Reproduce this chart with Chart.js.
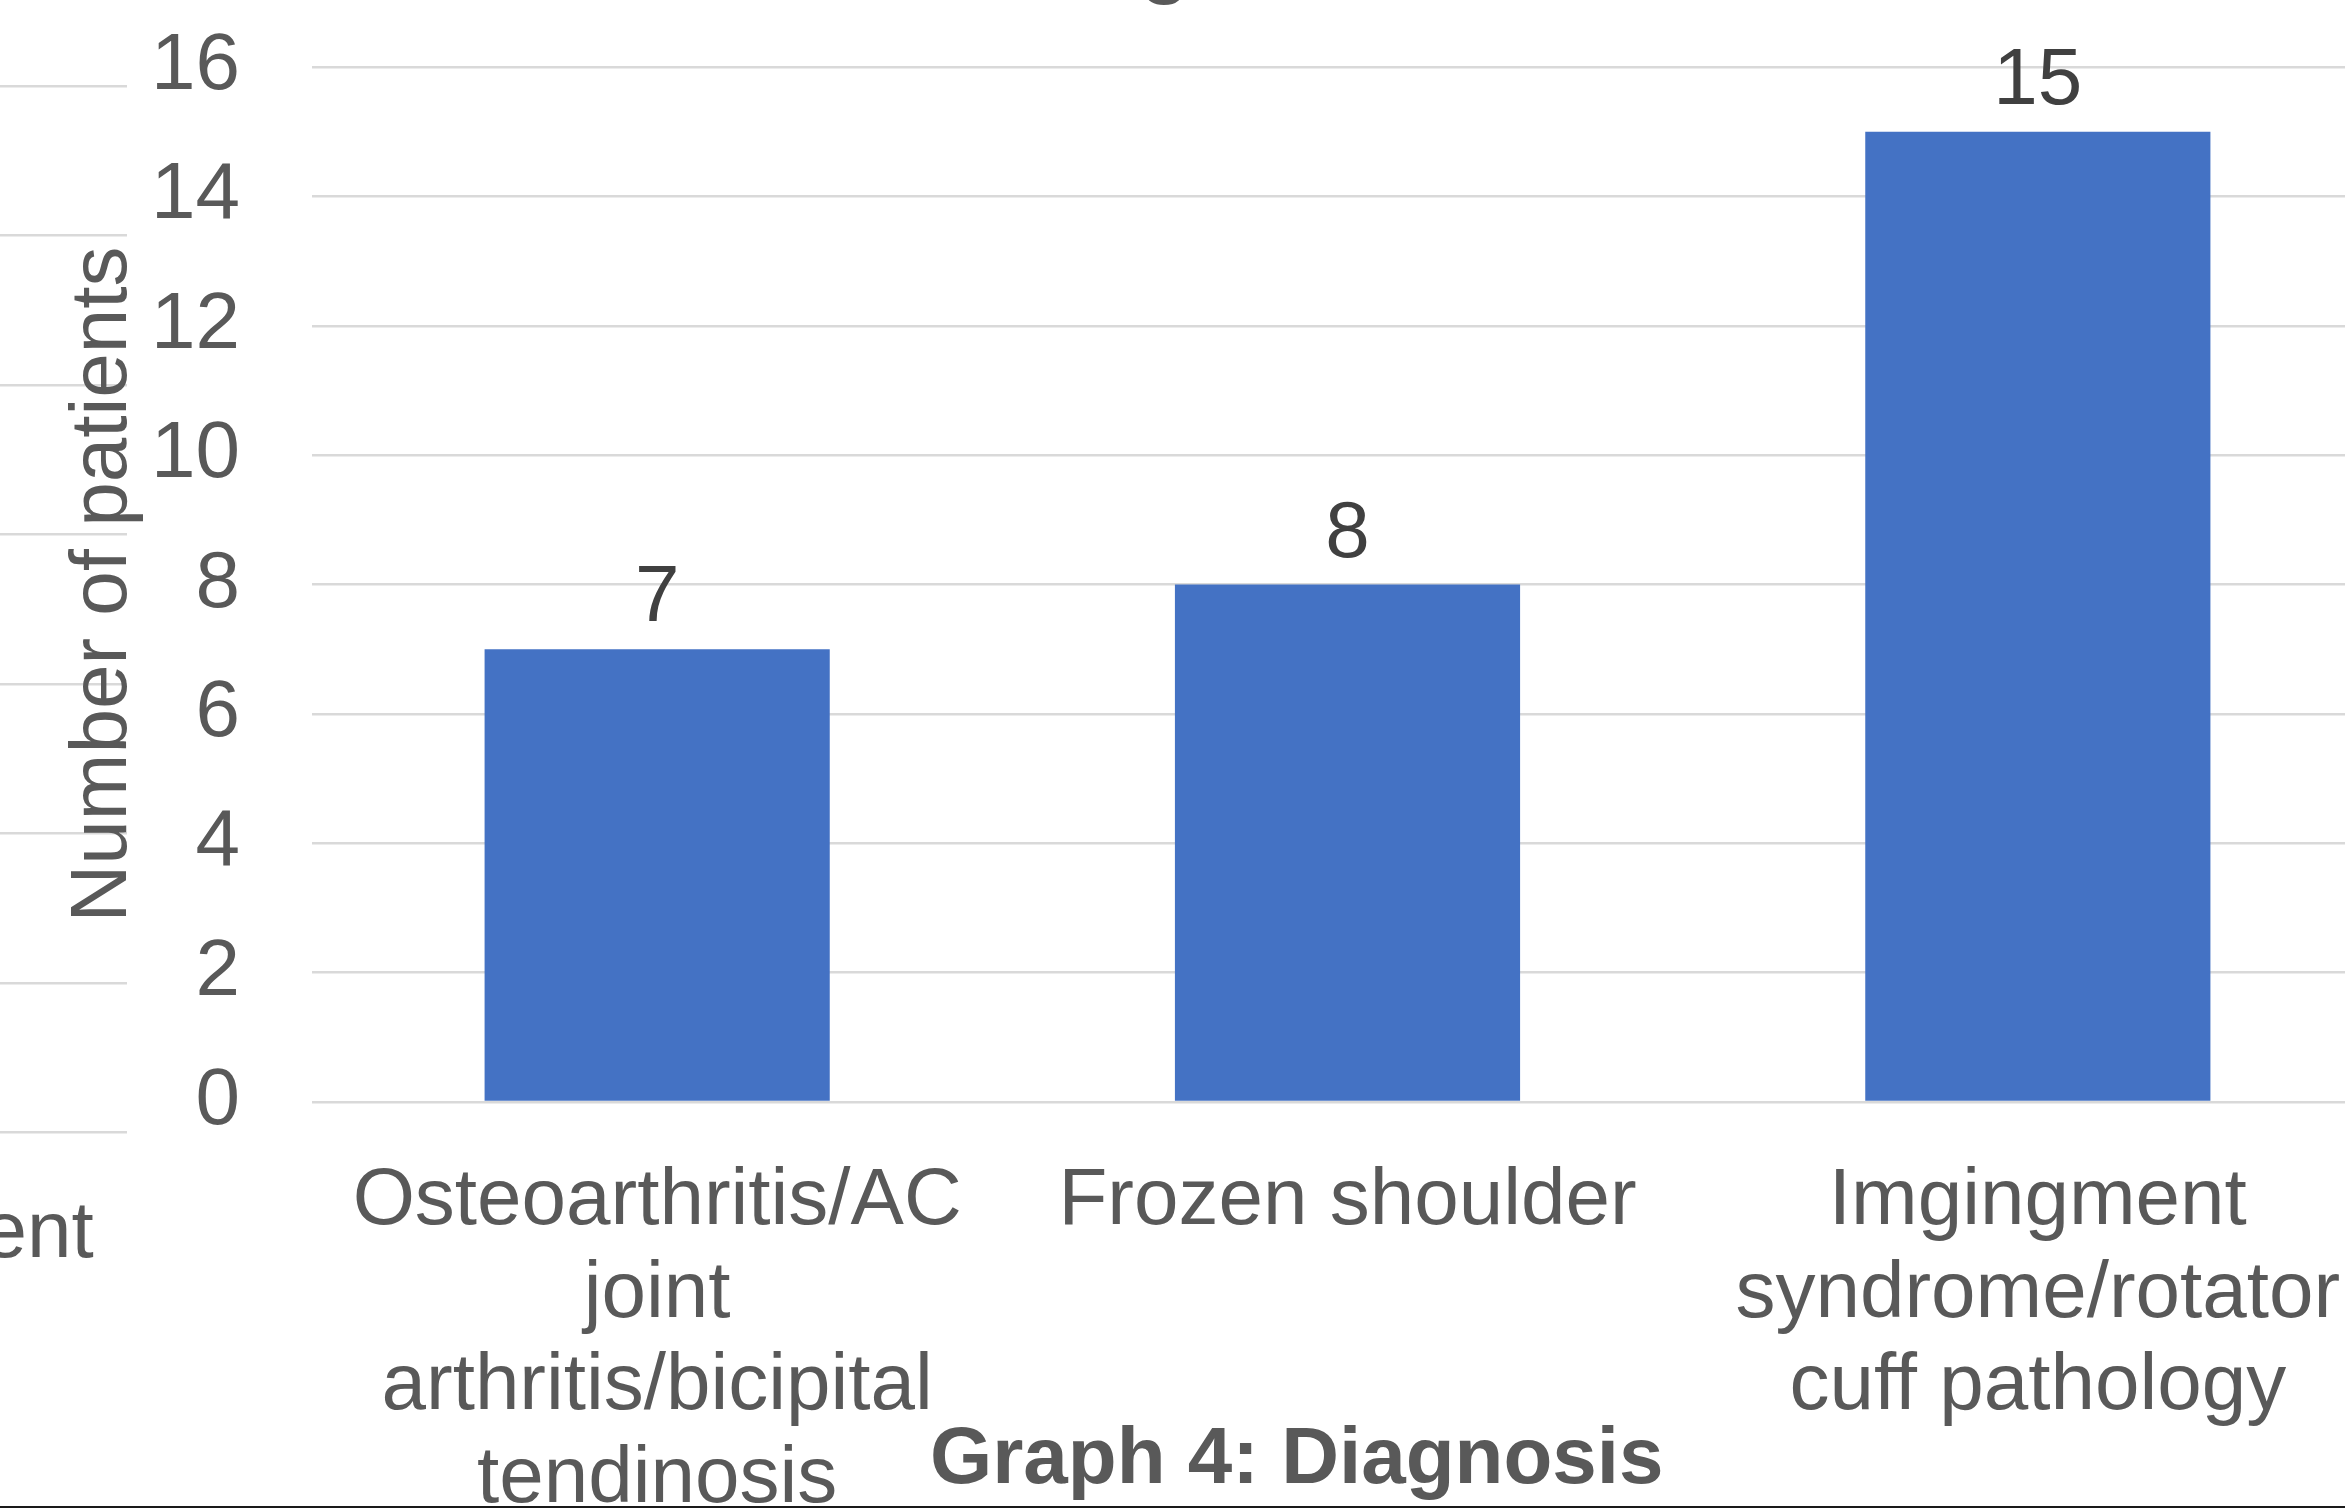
<!DOCTYPE html>
<html lang="en">
<head>
    <meta charset="UTF-8">
    <title>Graph 4: Diagnosis</title>
    <style>
        html, body {
            margin: 0;
            padding: 0;
            background: #ffffff;
            overflow: hidden;
        }
        .page {
            position: relative;
            width: 2345px;
            height: 1508px;
            overflow: hidden;
            background: #ffffff;
            font-family: 'Liberation Sans', Arial, sans-serif;
            color: #595959;
        }
        #left-chart {
            position: absolute;
            left: -400px;
            top: 0;
        }
        #main-chart {
            position: absolute;
            left: 0;
            top: 0;
        }
        .title-top {
            position: absolute;
            left: 1016px;
            top: -79px;
            font-size: 80px;
            line-height: 80px;
            font-weight: bold;
            white-space: nowrap;
        }
        .caption {
            position: absolute;
            left: 930px;
            top: 1416px;
            font-size: 80px;
            line-height: 80px;
            font-weight: bold;
            white-space: nowrap;
        }
        .bottom-rule {
            position: absolute;
            left: 0;
            top: 1506px;
            width: 100%;
            height: 2px;
            background: #1a1a1a;
        }
    </style>
</head>
<body>
    <div class="page">
        <canvas id="left-chart" width="527" height="1508"></canvas>
        <canvas id="main-chart" width="2400" height="1508"></canvas>
        <div class="title-top">Diagnosis</div>
        <div class="caption">Graph 4: Diagnosis</div>
        <div class="bottom-rule"></div>
    </div>

    <script src="https://cdn.jsdelivr.net/npm/chart.js"></script>
    <script>
        // main chart data
        const categories = [
            ['Osteoarthritis/AC', 'joint', 'arthritis/bicipital', 'tendinosis'],
            ['Frozen shoulder'],
            ['Imgingment', 'syndrome/rotator', 'cuff pathology']
        ];
        const patients = [7, 8, 15];
        const yTicks = [0, 2, 4, 6, 8, 10, 12, 14, 16];

        // neighbouring chart, only its right edge is visible
        const leftCategories = ['ent'];
        const leftTicks = [0, 1, 2, 3, 4, 5, 6, 7];

        const FONT = "'Liberation Sans', Arial, sans-serif";
        const TEXT = '#595959';
        const GRID = '#d9d9d9';

        // stop tick labels from pushing the plot area around
        function noPadding(scale) {
            scale.paddingTop = 0;
            scale.paddingBottom = 0;
            scale.paddingLeft = 0;
            scale.paddingRight = 0;
        }

        // value labels above each bar
        const barValues = {
            id: 'barValues',
            afterDatasetsDraw(chart) {
                const ctx = chart.ctx;
                ctx.save();
                ctx.font = '80px ' + FONT;
                ctx.fillStyle = '#404040';
                ctx.textAlign = 'center';
                ctx.textBaseline = 'alphabetic';
                chart.getDatasetMeta(0).data.forEach((bar, i) => {
                    ctx.fillText(String(chart.data.datasets[0].data[i]), bar.x, bar.y - 28);
                });
                ctx.restore();
            }
        };

        new Chart(document.getElementById('main-chart'), {
            type: 'bar',
            data: {
                labels: categories,
                datasets: [{
                    data: patients,
                    backgroundColor: '#4472c4',
                    borderWidth: 0,
                    barPercentage: 0.5,
                    categoryPercentage: 1.0
                }]
            },
            options: {
                responsive: false,
                animation: false,
                events: [],
                layout: { padding: { top: 67, right: 17, bottom: 0, left: 0 } },
                plugins: {
                    legend: { display: false },
                    tooltip: { enabled: false }
                },
                scales: {
                    x: {
                        grid: { display: false },
                        border: { display: false },
                        ticks: {
                            color: TEXT,
                            font: { family: FONT, size: 80, lineHeight: 1.156 },
                            padding: 46,
                            autoSkip: false,
                            maxRotation: 0,
                            minRotation: 0
                        },
                        afterFit(scale) {
                            scale.height = 406;
                            noPadding(scale);
                        }
                    },
                    y: {
                        min: yTicks[0],
                        max: yTicks[yTicks.length - 1],
                        afterBuildTicks(scale) {
                            scale.ticks = yTicks.map(v => ({ value: v }));
                        },
                        grid: { color: GRID, lineWidth: 2.5, drawTicks: false },
                        border: { display: false },
                        ticks: {
                            color: TEXT,
                            font: { family: FONT, size: 80 },
                            padding: 72
                        },
                        title: {
                            display: true,
                            text: 'Number of patients',
                            color: TEXT,
                            font: { family: FONT, size: 80, lineHeight: 1.2 },
                            padding: { top: 56, bottom: 0 }
                        },
                        afterFit(scale) {
                            scale.width = 312;
                            noPadding(scale);
                        }
                    }
                }
            },
            plugins: [barValues]
        });

        new Chart(document.getElementById('left-chart'), {
            type: 'bar',
            data: {
                labels: leftCategories,
                datasets: []
            },
            options: {
                responsive: false,
                animation: false,
                events: [],
                layout: { padding: { top: 86, right: 0, bottom: 0, left: 349 } },
                plugins: {
                    legend: { display: false },
                    tooltip: { enabled: false }
                },
                scales: {
                    x: {
                        grid: { display: false },
                        border: { display: false },
                        ticks: {
                            color: TEXT,
                            font: { family: FONT, size: 80, lineHeight: 1.156 },
                            padding: 48,
                            maxRotation: 0,
                            minRotation: 0
                        },
                        afterFit(scale) {
                            scale.height = 375.5;
                            noPadding(scale);
                        }
                    },
                    y: {
                        min: leftTicks[0],
                        max: leftTicks[leftTicks.length - 1],
                        afterBuildTicks(scale) {
                            scale.ticks = leftTicks.map(v => ({ value: v }));
                        },
                        grid: { color: GRID, lineWidth: 2.5, drawTicks: false },
                        border: { display: false },
                        ticks: { display: false },
                        afterFit(scale) {
                            scale.width = 0;
                            noPadding(scale);
                        }
                    }
                }
            }
        });
    </script>
</body>
</html>
